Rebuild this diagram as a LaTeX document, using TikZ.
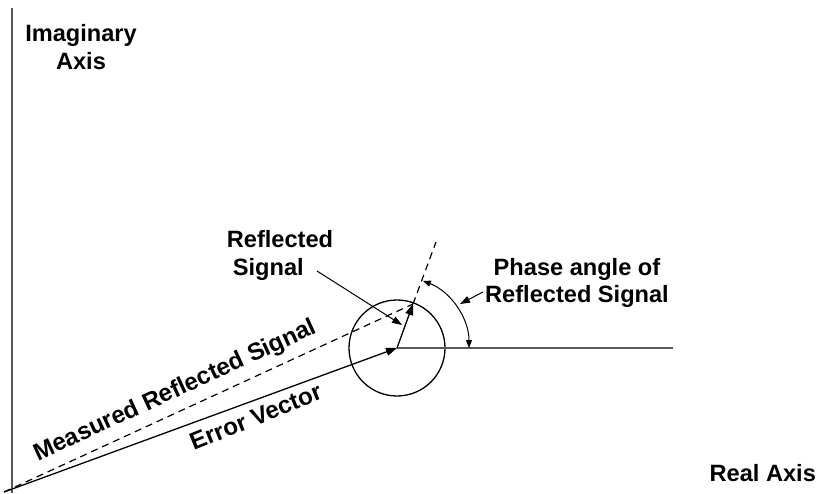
\documentclass[tikz,border=0pt]{standalone}
\usepackage{fontspec}
\setmainfont{Liberation Sans}
\usetikzlibrary{arrows.meta}
\begin{document}
\begin{tikzpicture}[x=1pt,y=-1pt,
  lbl/.style={font=\fontsize{23.6}{27.8}\selectfont\bfseries, inner sep=0pt},
  slbl/.style={font=\fontsize{24.2}{28}\selectfont\bfseries, inner sep=0pt},
  axisline/.style={draw=black!65, line width=1.1pt},
  vec/.style={line width=1.3pt, -{Triangle[length=11pt,width=8pt]}},
  ptr/.style={line width=1pt, -{Triangle[length=10pt,width=7pt]}},
  angarr/.style={line width=1pt, {Triangle[length=8pt,width=6pt]}-{Triangle[length=8pt,width=6pt]}},
  dashline/.style={line width=1.2pt, dash pattern=on 7pt off 5pt}
]
\useasboundingbox (0,0) rectangle (817,493);
\coordinate (O) at (4,492);
\coordinate (C) at (397,348);
\coordinate (T) at (413,304);
\coordinate (D) at (436,242);
\coordinate (ytop) at (12,8);
\coordinate (ybot) at (12,493);
\coordinate (xend) at (673,348);
\coordinate (p1) at (483,292);
\coordinate (p2) at (460,304);
\coordinate (r1) at (317,271);
\coordinate (r2) at (402,325);
\node[circle, draw, line width=1.3pt, minimum size=96pt, inner sep=0pt] (circ) at (C) {};
\draw[axisline] (ytop) -- (ybot);
\draw[axisline] (C) -- (xend);
\draw[dashline] (O) -- node[sloped, above=8pt, pos=0.44, slbl] (mlab) {Measured Reflected Signal} (T);
\draw[dashline] (T) -- (D);
\draw[vec] (O) -- node[sloped, rotate=2, below=7pt, pos=0.625, slbl] (elab) {Error Vector} (C);
\draw[vec] (C) -- (T);
\draw[angarr] ([shift={(-69:72)}]C) arc[start angle=-69, end angle=0, radius=72];
\node[lbl, align=center] (ilab) at (81,47) {Imaginary\\Axis};
\node[lbl, align=left, anchor=west] (rlab) at (226.7,255.5) {Reflected\\\hspace*{6pt}Signal};
\node[lbl, align=center] (plab) at (577,283) {Phase angle of\\Reflected Signal};
\node[lbl, anchor=base west] (xlab) at (709.5,481.5) {Real Axis};
\draw[ptr] (p1) -- (p2);
\draw[ptr] (r1) -- (r2);
\end{tikzpicture}
\end{document}
